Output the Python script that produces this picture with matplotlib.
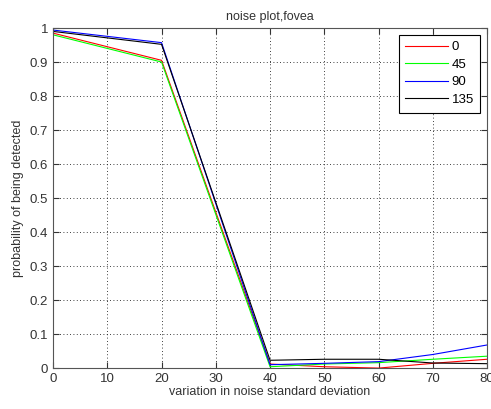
import matplotlib
matplotlib.use("Agg")
import matplotlib.pyplot as plt

x = [0, 20, 40, 50, 60, 70, 80]
s0 = [0.985, 0.905, 0.012, 0.004, 0.0, 0.014, 0.026]
s45 = [0.980, 0.900, 0.004, 0.012, 0.016, 0.026, 0.035]
s90 = [0.994, 0.957, 0.010, 0.014, 0.019, 0.040, 0.068]
s135 = [0.990, 0.952, 0.023, 0.026, 0.026, 0.015, 0.013]
labels = ["0", "45", "90", "135"]
colors = ["red", "#00ff00", "blue", "black"]

plt.rcParams['font.family'] = ['Liberation Sans', 'DejaVu Sans']
fig = plt.figure(figsize=(4.91, 4.09), dpi=100)
ax = fig.add_axes([0.108, 0.100, 0.884, 0.8315])
for ys, lab, c in zip([s0, s45, s90, s135], labels, colors):
    ax.plot(x, ys, color=c, lw=0.8, label=lab)
ax.set_xlim(0, 80)
ax.set_ylim(0, 1)
ax.set_xticks(range(0, 81, 10))
ax.set_yticks([i / 10 for i in range(11)])
ax.set_yticklabels(["0", "0.1", "0.2", "0.3", "0.4", "0.5", "0.6", "0.7", "0.8", "0.9", "1"])
ax.grid(True, linestyle=(0, (1, 3)), color="black", lw=0.6)
ax.tick_params(direction="in", top=True, right=True, labelsize=9.5, length=4, colors="#333333", labelcolor="#333333")
for sp in ax.spines.values():
    sp.set_color("#555555")
ax.set_title("noise plot,fovea", fontsize=9, color="#333333", pad=6)
ax.set_xlabel("variation in noise standard deviation", fontsize=9, color="#333333", labelpad=1)
ax.set_ylabel("probability of being detected", fontsize=9, color="#333333", labelpad=4)
leg = ax.legend(loc="upper right", fontsize=9.5, handlelength=3.2, fancybox=False, framealpha=1,
                edgecolor="black", borderaxespad=0.5, handletextpad=0.3, labelspacing=0.4,
                borderpad=0.5)
leg.get_frame().set_linewidth(0.8)
fig.savefig("out.png", dpi=100)
